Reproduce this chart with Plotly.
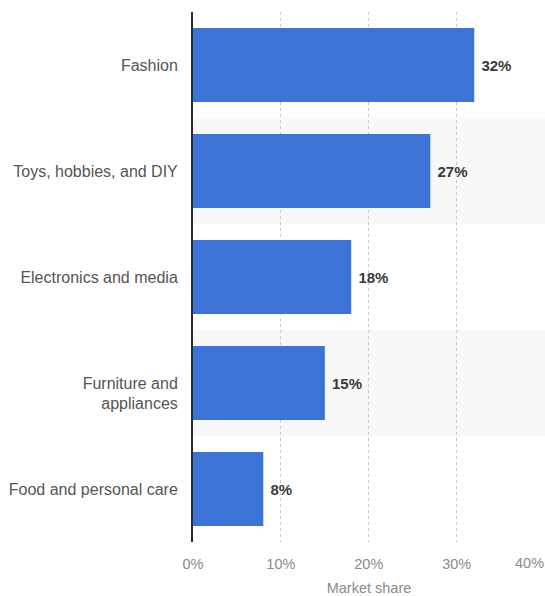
import plotly.graph_objects as go

# Market share by product category
categories = ["Fashion", "Toys, hobbies, and DIY", "Electronics and media",
              "<br>Furniture and<br>appliances", "Food and personal care"]
shares = [32, 27, 18, 15, 8]
x_ticks = [0, 10, 20, 30, 40]
x_tick_labels = ["0%", "10%", "20%", "30%", "40%"]

bar_color = "#3c73d7"
font_family = "Liberation Sans, Arial, sans-serif"
tick_font = dict(family=font_family, size=14.5, color="#8a8a8a")

fig = go.Figure()

fig.add_trace(go.Bar(
    y=categories,
    x=shares,
    orientation="h",
    marker=dict(color=bar_color, line=dict(width=0)),
    text=shares,
    texttemplate=" %{text}%",
    textposition="outside",
    textfont=dict(family=font_family, size=15, color="#3a3a3a", weight="bold"),
    cliponaxis=False,
    width=0.7,
    hoverinfo="skip",
))

# light alternating row bands behind every second category
for i, cat in enumerate(categories):
    if i % 2 == 1:
        fig.add_shape(
            type="rect", xref="paper", yref="y",
            x0=0, x1=1, y0=i - 0.5, y1=i + 0.5,
            fillcolor="#f8f8f8", line=dict(width=0), layer="below",
        )

# the last tick label sits at the right edge, so it is pulled inside the page
fig.add_annotation(
    x=x_ticks[-1], xref="x", y=0, yref="paper",
    text=x_tick_labels[-1], showarrow=False,
    xanchor="right", yanchor="middle", yshift=-21, xshift=1,
    font=tick_font,
)

fig.update_layout(
    width=545, height=596,
    margin=dict(l=193, r=0, t=12, b=54),
    paper_bgcolor="white",
    plot_bgcolor="white",
    showlegend=False,
    font=dict(family=font_family),
    bargap=0.3,
)

fig.update_xaxes(
    range=[0, 40.05],
    automargin=False,
    tickvals=x_ticks,
    ticktext=x_tick_labels[:-1] + [""],
    tickfont=tick_font,
    showgrid=True,
    gridcolor="#c8c8c8",
    griddash="dot",
    gridwidth=1,
    zeroline=False,
    showline=False,
    ticks="",
    ticklabelstandoff=11,
    title=dict(text="Market share", font=dict(size=14.5, color="#8a8a8a"), standoff=14),
    fixedrange=True,
)

fig.update_yaxes(
    autorange="reversed",
    tickfont=dict(size=16, color="#555555"),
    showgrid=False,
    zeroline=False,
    showline=True,
    linecolor="#2b2b2b",
    linewidth=2,
    ticks="",
    ticklabelstandoff=10,
    fixedrange=True,
)

fig.write_html("out.html")
